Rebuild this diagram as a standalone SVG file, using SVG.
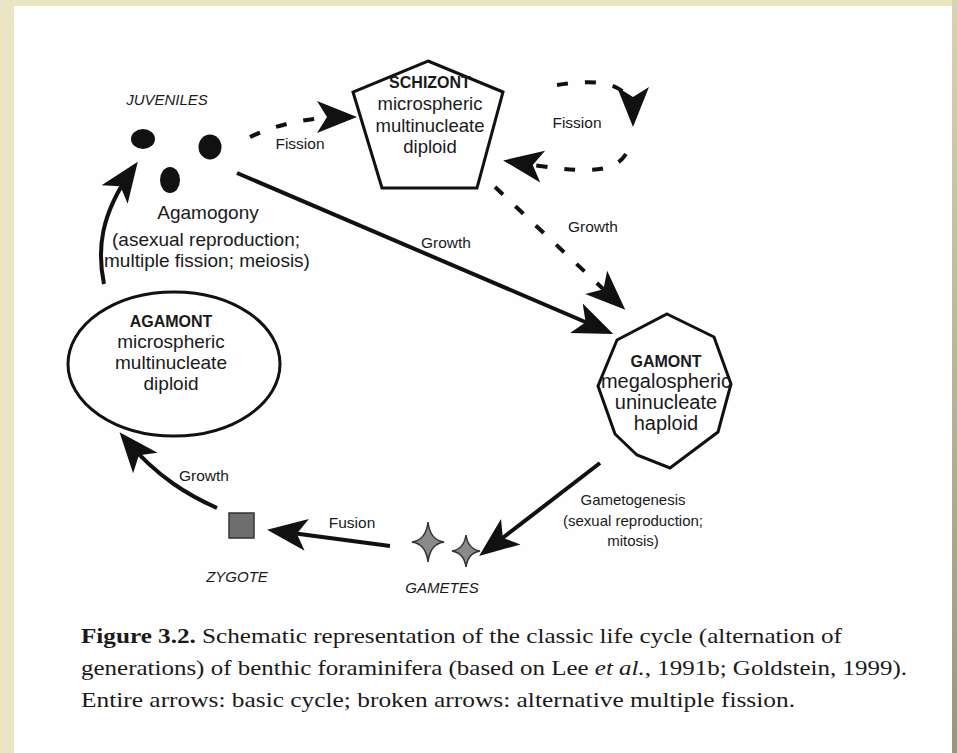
<svg xmlns="http://www.w3.org/2000/svg" width="957" height="753" viewBox="0 0 957 753">
<defs>
<linearGradient id="edge" x1="0" y1="0" x2="0" y2="1">
<stop offset="0" stop-color="#d9d3b2"/>
<stop offset="1" stop-color="#99967c"/>
</linearGradient>
<marker id="ah" markerUnits="userSpaceOnUse" markerWidth="54" markerHeight="40" viewBox="-42 -20 54 40" refX="-10" refY="0" orient="auto">
<path d="M0,0 L-40,-16 L-30,0 L-40,16 Z" fill="#111"/>
</marker>
<style>
.lbl{font-family:"Liberation Sans",Arial,sans-serif;fill:#1a1a1a;text-anchor:middle}
.node{font-family:"Liberation Sans",Arial,sans-serif;fill:#1a1a1a;text-anchor:middle}
.hd{font-weight:bold}
.it{font-style:italic}
.solid{fill:none;stroke:#111;stroke-width:4}
.dash{fill:none;stroke:#111;stroke-width:4;stroke-dasharray:11 17}
.shape{fill:#fff;stroke:#111;stroke-width:3}
.cap{font-family:"Liberation Serif","Times New Roman",serif;font-size:22px;fill:#1a1a1a}
</style>
</defs>
<rect x="0" y="0" width="957" height="753" fill="#ebe4c5"/>
<rect x="952" y="0" width="5" height="753" fill="url(#edge)"/>
<rect x="14" y="6" width="938" height="760" fill="#fefefe"/>

<g id="connectors">
<path class="dash" d="M250,137 Q292,117 347,117" marker-end="url(#ah)"/>
<path class="dash" d="M557,85 C592,80 633,78 633,117" marker-end="url(#ah)"/>
<path class="dash" d="M626,154 C612,176 578,172 513,162" marker-end="url(#ah)"/>
<path class="dash" d="M495,187 L618,303" marker-end="url(#ah)"/>
<path class="solid" d="M237,173 L604,330" marker-end="url(#ah)"/>
<path class="solid" d="M600,463 L487,550" marker-end="url(#ah)"/>
<path class="solid" d="M390,546 L277,531" marker-end="url(#ah)"/>
<path class="solid" d="M217,508 C190,496 158,478 126,440" marker-end="url(#ah)"/>
<path class="solid" d="M104,284 C97,250 100,215 132,170" marker-end="url(#ah)"/>
</g>

<g id="labels">
<text class="lbl" x="300" y="149" font-size="15.5">Fission</text>
<text class="lbl" x="577" y="128" font-size="15.5">Fission</text>
<text class="lbl" x="593" y="232" font-size="15.5">Growth</text>
<text class="lbl" x="446" y="248" font-size="15.5">Growth</text>
<text class="lbl" x="204" y="481" font-size="15.5">Growth</text>
<text class="lbl" x="352" y="528" font-size="15.5">Fusion</text>
<text class="lbl" font-size="19"><tspan x="208" y="219">Agamogony</tspan><tspan x="206" y="246">(asexual reproduction;</tspan><tspan x="207" y="267">multiple fission; meiosis)</tspan></text>
<text class="lbl" font-size="15"><tspan x="633" y="505">Gametogenesis</tspan><tspan x="633" y="526">(sexual reproduction;</tspan><tspan x="633" y="546">mitosis)</tspan></text>
</g>

<g id="juveniles">
<text class="lbl it" x="167" y="105" font-size="15">JUVENILES</text>
<ellipse cx="143" cy="139" rx="12" ry="10" fill="#111"/>
<ellipse cx="210" cy="147" rx="11.5" ry="12.5" fill="#111"/>
<ellipse cx="170" cy="180" rx="10" ry="13" fill="#111"/>
</g>

<g id="schizont">
<polygon class="shape" points="428,61 503,92 477,188 382,188 353,92"/>
<text class="node hd" x="430" y="88" font-size="16">SCHIZONT</text>
<text class="node" font-size="18.5"><tspan x="430" y="110">microspheric</tspan><tspan x="430" y="132">multinucleate</tspan><tspan x="430" y="153">diploid</tspan></text>
</g>

<g id="gamont">
<polygon class="shape" points="667,314 714,337 731,384 718,432 670,468 637,455 615,434 598,386 617,340"/>
<text class="node hd" x="666" y="367" font-size="16">GAMONT</text>
<text class="node" font-size="20"><tspan x="666" y="388">megalospheric</tspan><tspan x="666" y="409">uninucleate</tspan><tspan x="666" y="430">haploid</tspan></text>
</g>

<g id="agamont">
<ellipse class="shape" cx="174" cy="364" rx="106" ry="72"/>
<text class="node hd" x="171" y="327" font-size="16">AGAMONT</text>
<text class="node" font-size="19"><tspan x="171" y="348">microspheric</tspan><tspan x="171" y="369">multinucleate</tspan><tspan x="171" y="390">diploid</tspan></text>
</g>

<g id="zygote">
<rect x="229" y="513" width="25" height="25" fill="#6e6e6e" stroke="#333" stroke-width="1.5"/>
<text class="lbl it" x="237" y="582" font-size="15">ZYGOTE</text>
</g>

<g id="gametes">
<path d="M428,522 Q430,540 444,542 Q430,544 428,562 Q426,544 412,542 Q426,540 428,522 Z" fill="#8a8a8a" stroke="#333" stroke-width="1.5"/>
<path d="M466,535 Q468,549 480,551 Q468,553 466,567 Q464,553 452,551 Q464,549 466,535 Z" fill="#8a8a8a" stroke="#333" stroke-width="1.5"/>
<text class="lbl it" x="442" y="593" font-size="15">GAMETES</text>
</g>

<g id="caption">
<text class="cap" x="81" y="643" textLength="761" lengthAdjust="spacingAndGlyphs"><tspan font-weight="bold">Figure 3.2.</tspan> Schematic representation of the classic life cycle (alternation of</text>
<text class="cap" x="81" y="675" textLength="826" lengthAdjust="spacingAndGlyphs">generations) of benthic foraminifera (based on Lee <tspan font-style="italic">et al.</tspan>, 1991b; Goldstein, 1999).</text>
<text class="cap" x="81" y="707" textLength="714" lengthAdjust="spacingAndGlyphs">Entire arrows: basic cycle; broken arrows: alternative multiple fission.</text>
</g>
</svg>
